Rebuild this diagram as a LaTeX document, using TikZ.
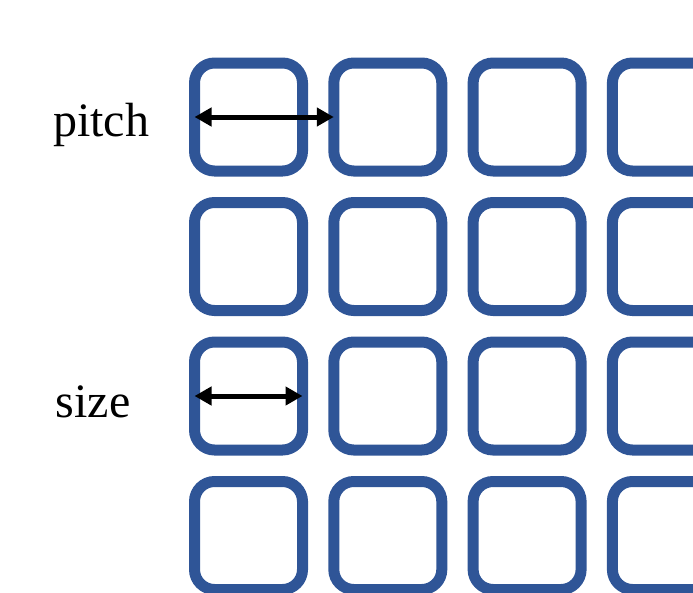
\documentclass[tikz,border=0pt]{standalone}
\usepackage{fontspec}
\setmainfont{Liberation Serif}
\usetikzlibrary{positioning,arrows.meta}
\definecolor{cellblue}{HTML}{2F5597}
\tikzset{
  cell/.style={draw=cellblue,line width=11pt,rounded corners=20pt,minimum width=108pt,minimum height=108pt,inner sep=0pt,outer sep=0pt},
  lbl/.style={font=\fontsize{48}{58}\selectfont,inner sep=0pt,anchor=base},
  arr/.style={{Triangle[length=17pt,width=18pt]}-{Triangle[length=17pt,width=18pt]},line width=5pt},
}
\begin{document}
\begin{tikzpicture}[x=1pt,y=-1pt]
\useasboundingbox (0,0) rectangle (693,592);
\clip (0,0) rectangle (693,592);
\foreach \r in {0,...,3}
  \foreach \c in {0,...,3}
    \node[cell] (b\r\c) at (248.5+139.3*\c,117+139.5*\r) {};
\node[lbl] (pitch) at (101,136) {pitch};
\node[lbl] (size) at (93,417) {size};
\draw[arr] (b00.west) -- (b01.west);
\draw[arr] (b20.west) -- (b20.east);
\end{tikzpicture}
\end{document}
